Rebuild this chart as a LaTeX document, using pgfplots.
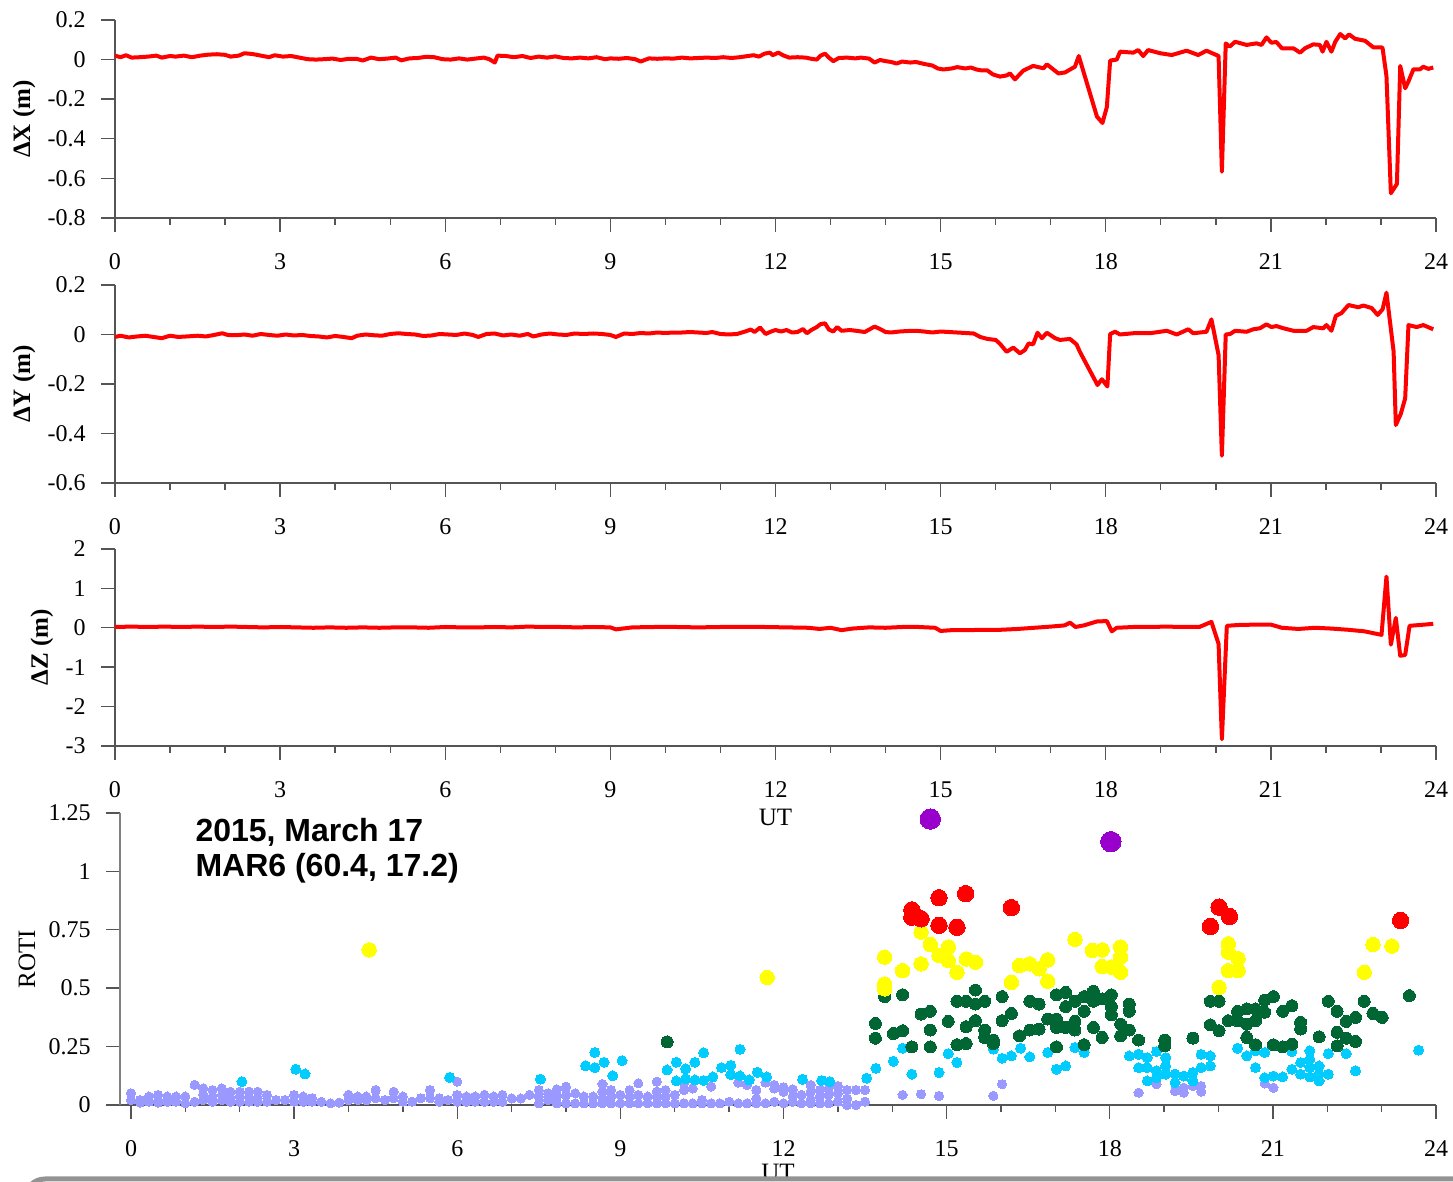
\documentclass[border=0pt]{standalone}
\usepackage{fontspec}
\setmainfont{Liberation Serif}
\setsansfont{Liberation Sans}
\usepackage{pgfplots}
\usepackage{pgfplotstable}
\pgfplotsset{compat=1.18}

\definecolor{axisgray}{HTML}{555555}
\definecolor{rotilav}{HTML}{9999FF}
\definecolor{roticyan}{HTML}{00CCFF}
\definecolor{rotigreen}{HTML}{006633}
\definecolor{rotiyellow}{HTML}{FFFF00}
\definecolor{rotired}{HTML}{FF0000}
\definecolor{rotipurple}{HTML}{9900CC}

% ---------------- position residuals (UT hours, metres) ----------------
\pgfplotstableread{
t d
0.00 0.020
0.10 0.012
0.20 0.022
0.30 0.010
0.45 0.012
0.60 0.015
0.75 0.020
0.85 0.010
1.00 0.018
1.10 0.015
1.25 0.020
1.40 0.012
1.55 0.020
1.70 0.025
1.85 0.027
2.00 0.024
2.10 0.015
2.25 0.020
2.35 0.032
2.50 0.028
2.65 0.020
2.80 0.012
2.90 0.022
3.05 0.015
3.20 0.018
3.35 0.010
3.50 0.002
3.65 0.000
3.80 0.002
3.95 0.005
4.10 -0.002
4.25 0.004
4.40 0.003
4.50 -0.005
4.65 0.010
4.80 0.002
4.95 0.005
5.10 0.010
5.20 -0.004
5.35 0.006
5.50 0.008
5.65 0.014
5.80 0.012
5.95 0.002
6.10 0.000
6.25 0.006
6.40 0.000
6.55 0.005
6.70 0.010
6.80 0.002
6.90 -0.015
6.95 0.020
7.10 0.018
7.25 0.012
7.40 0.018
7.55 0.008
7.70 0.015
7.85 0.010
8.00 0.016
8.15 0.008
8.30 0.006
8.45 0.010
8.60 0.006
8.75 0.012
8.90 0.002
9.00 0.006
9.15 0.004
9.30 0.008
9.45 0.002
9.55 -0.010
9.70 0.006
9.85 0.004
10.00 0.006
10.15 0.005
10.30 0.010
10.45 0.006
10.60 0.008
10.75 0.010
10.90 0.008
11.05 0.012
11.20 0.008
11.35 0.012
11.50 0.018
11.60 0.022
11.70 0.015
11.80 0.030
11.90 0.035
11.95 0.022
12.05 0.035
12.15 0.020
12.25 0.010
12.40 0.012
12.55 0.010
12.65 0.004
12.75 0.000
12.82 0.020
12.90 0.030
12.97 0.010
13.05 -0.008
13.15 0.008
13.30 0.010
13.45 0.006
13.55 0.010
13.70 0.005
13.80 -0.015
13.90 -0.002
14.00 -0.008
14.10 -0.012
14.20 -0.020
14.30 -0.010
14.45 -0.015
14.55 -0.012
14.70 -0.022
14.85 -0.030
14.95 -0.045
15.05 -0.050
15.20 -0.045
15.30 -0.038
15.45 -0.045
15.55 -0.040
15.65 -0.050
15.75 -0.055
15.85 -0.055
15.95 -0.075
16.08 -0.086
16.20 -0.080
16.26 -0.070
16.35 -0.100
16.50 -0.056
16.68 -0.032
16.87 -0.044
16.93 -0.024
17.14 -0.070
17.26 -0.065
17.44 -0.036
17.51 0.018
17.84 -0.288
17.94 -0.320
18.02 -0.240
18.08 -0.005
18.20 0.000
18.26 0.040
18.50 0.035
18.59 0.048
18.68 0.018
18.77 0.048
18.99 0.032
19.20 0.023
19.47 0.045
19.68 0.023
19.83 0.045
20.05 0.018
20.11 -0.566
20.18 0.082
20.25 0.065
20.35 0.090
20.56 0.074
20.74 0.082
20.83 0.074
20.92 0.112
21.01 0.085
21.10 0.089
21.20 0.057
21.41 0.057
21.53 0.035
21.62 0.057
21.77 0.077
21.89 0.074
21.94 0.040
22.01 0.090
22.10 0.040
22.17 0.090
22.26 0.129
22.35 0.107
22.42 0.127
22.53 0.105
22.71 0.095
22.86 0.062
23.01 0.062
23.03 0.057
23.10 -0.083
23.18 -0.675
23.29 -0.628
23.35 -0.032
23.44 -0.145
23.50 -0.110
23.59 -0.049
23.71 -0.049
23.77 -0.036
23.86 -0.047
23.95 -0.040
}\dxdata

\pgfplotstableread{
t d
0.00 -0.010
0.10 -0.005
0.25 -0.012
0.40 -0.008
0.55 -0.005
0.70 -0.010
0.85 -0.015
1.00 -0.005
1.15 -0.010
1.30 -0.008
1.50 -0.005
1.65 -0.008
1.80 -0.002
1.95 0.005
2.05 -0.002
2.20 -0.003
2.35 0.000
2.50 -0.005
2.65 0.002
2.80 -0.002
2.95 -0.005
3.10 0.000
3.25 -0.004
3.40 -0.002
3.55 -0.006
3.70 -0.008
3.85 -0.012
4.00 -0.006
4.15 -0.010
4.30 -0.015
4.40 -0.005
4.55 0.000
4.70 -0.003
4.85 -0.005
5.00 0.002
5.15 0.005
5.30 0.002
5.45 0.000
5.60 -0.006
5.75 -0.004
5.90 0.002
6.05 0.000
6.20 -0.002
6.35 0.004
6.50 -0.002
6.60 -0.010
6.75 0.002
6.90 0.004
7.05 -0.004
7.20 0.000
7.35 -0.005
7.50 0.002
7.60 -0.008
7.75 0.000
7.90 0.004
8.05 0.000
8.20 -0.002
8.35 0.004
8.50 0.002
8.70 0.004
8.85 0.002
9.00 -0.002
9.10 -0.010
9.25 0.004
9.40 0.002
9.55 0.006
9.70 0.004
9.85 0.008
10.00 0.006
10.15 0.008
10.30 0.008
10.45 0.010
10.60 0.008
10.75 0.006
10.85 0.010
11.00 0.002
11.15 0.000
11.30 0.002
11.45 0.012
11.55 0.020
11.62 0.010
11.72 0.028
11.82 0.002
11.92 0.012
12.00 0.018
12.10 0.012
12.20 0.018
12.30 0.008
12.40 0.010
12.50 0.022
12.57 0.005
12.65 0.018
12.75 0.030
12.82 0.042
12.90 0.045
12.97 0.020
13.05 0.012
13.12 0.030
13.20 0.015
13.35 0.018
13.50 0.014
13.62 0.010
13.72 0.022
13.80 0.032
13.90 0.022
14.00 0.010
14.10 0.008
14.25 0.012
14.40 0.014
14.55 0.015
14.70 0.012
14.85 0.008
15.00 0.012
15.15 0.010
15.30 0.008
15.45 0.006
15.60 0.004
15.72 -0.010
15.85 -0.018
16.00 -0.022
16.08 -0.038
16.20 -0.070
16.32 -0.053
16.44 -0.076
16.53 -0.063
16.60 -0.036
16.68 -0.040
16.76 0.007
16.84 -0.015
16.93 0.007
17.08 -0.015
17.17 -0.022
17.35 -0.018
17.47 -0.040
17.53 -0.070
17.85 -0.204
17.93 -0.181
18.03 -0.210
18.08 0.002
18.17 0.011
18.26 0.000
18.50 0.005
18.80 0.005
19.11 0.015
19.29 0.000
19.50 0.021
19.59 0.005
19.83 0.011
19.92 0.061
20.05 -0.083
20.11 -0.490
20.18 0.000
20.26 0.002
20.35 0.015
20.56 0.011
20.68 0.021
20.80 0.025
20.92 0.041
21.01 0.030
21.10 0.034
21.23 0.025
21.41 0.015
21.65 0.015
21.77 0.030
21.95 0.025
22.01 0.038
22.10 0.015
22.18 0.075
22.28 0.086
22.41 0.119
22.59 0.110
22.68 0.117
22.83 0.107
22.94 0.079
23.03 0.102
23.10 0.169
23.23 -0.069
23.27 -0.366
23.36 -0.321
23.44 -0.258
23.50 0.038
23.65 0.030
23.77 0.038
23.95 0.021
}\dydata

\pgfplotstableread{
t d
0.00 0.02
0.30 0.03
0.60 0.02
0.90 0.03
1.20 0.02
1.50 0.03
1.80 0.02
2.10 0.03
2.40 0.02
2.70 0.01
3.00 0.02
3.30 0.01
3.60 0.00
3.90 0.01
4.20 0.00
4.50 0.01
4.80 0.00
5.10 0.01
5.40 0.01
5.70 0.00
6.00 0.02
6.30 0.01
6.60 0.01
6.90 0.02
7.20 0.01
7.50 0.03
7.80 0.02
8.10 0.02
8.40 0.01
8.70 0.02
9.00 0.01
9.10 -0.04
9.40 0.01
9.80 0.02
10.20 0.02
10.60 0.01
11.00 0.02
11.40 0.02
11.80 0.02
12.20 0.01
12.60 0.00
12.80 -0.03
13.00 0.00
13.20 -0.06
13.40 -0.02
13.70 0.01
14.00 0.00
14.30 0.02
14.60 0.02
14.90 0.00
15.00 -0.08
15.20 -0.06
15.50 -0.06
15.80 -0.05
16.10 -0.05
16.40 -0.03
16.70 0.00
17.00 0.03
17.25 0.06
17.35 0.13
17.45 0.02
17.60 0.06
17.84 0.16
18.02 0.17
18.11 -0.09
18.20 0.00
18.50 0.02
18.80 0.02
19.10 0.03
19.40 0.02
19.70 0.02
19.92 0.15
20.05 -0.41
20.11 -2.83
20.20 0.05
20.40 0.07
20.70 0.08
21.00 0.08
21.20 0.00
21.50 -0.03
21.80 0.00
22.10 -0.02
22.40 -0.05
22.70 -0.09
23.01 -0.18
23.10 1.30
23.18 -0.43
23.27 0.25
23.35 -0.71
23.44 -0.69
23.52 0.05
23.70 0.07
23.95 0.10
}\dzdata

% ---------------- ROTI, split by level ----------------
\pgfplotstableread{
t r
0.00 0.050
0.00 0.021
0.17 0.021
0.17 0.010
0.33 0.036
0.33 0.014
0.50 0.043
0.50 0.021
0.50 0.010
0.67 0.036
0.67 0.014
0.83 0.036
0.83 0.014
1.00 0.036
1.00 0.007
1.17 0.086
1.17 0.014
1.33 0.071
1.33 0.043
1.33 0.021
1.50 0.064
1.50 0.036
1.50 0.014
1.67 0.071
1.67 0.043
1.67 0.021
1.83 0.057
1.83 0.029
1.83 0.014
2.00 0.057
2.00 0.036
2.00 0.014
2.17 0.057
2.17 0.036
2.17 0.014
2.33 0.057
2.33 0.029
2.33 0.014
2.50 0.043
2.50 0.014
2.67 0.021
2.83 0.021
3.00 0.043
3.00 0.014
3.17 0.036
3.17 0.014
3.33 0.029
3.33 0.014
3.50 0.014
3.67 0.007
3.83 0.010
4.00 0.043
4.00 0.021
4.17 0.036
4.17 0.021
4.33 0.036
4.33 0.021
4.50 0.064
4.50 0.029
4.67 0.021
4.83 0.057
4.83 0.029
5.00 0.036
5.00 0.014
5.17 0.014
5.33 0.029
5.50 0.064
5.50 0.029
5.67 0.029
5.67 0.014
5.83 0.021
6.00 0.100
6.00 0.043
6.00 0.014
6.17 0.036
6.17 0.014
6.33 0.036
6.33 0.014
6.50 0.043
6.50 0.014
6.67 0.036
6.67 0.014
6.83 0.043
6.83 0.014
7.00 0.028
7.17 0.028
7.33 0.043
7.50 0.064
7.50 0.036
7.50 0.007
7.67 0.050
7.67 0.021
7.83 0.067
7.83 0.036
7.83 0.007
8.00 0.078
8.00 0.043
8.00 0.007
8.17 0.050
8.17 0.007
8.33 0.036
8.33 0.007
8.50 0.036
8.50 0.007
8.67 0.090
8.67 0.057
8.67 0.028
8.67 0.007
8.83 0.064
8.83 0.036
8.83 0.007
9.00 0.043
9.00 0.007
9.17 0.064
9.17 0.036
9.17 0.007
9.33 0.093
9.33 0.043
9.33 0.007
9.50 0.036
9.50 0.007
9.67 0.100
9.67 0.057
9.67 0.036
9.67 0.007
9.83 0.064
9.83 0.036
9.83 0.007
10.00 0.043
10.00 0.007
10.17 0.093
10.17 0.064
10.17 0.007
10.33 0.071
10.33 0.007
10.50 0.021
10.50 0.007
10.67 0.079
10.67 0.007
10.83 0.007
11.00 0.014
11.17 0.096
11.17 0.007
11.33 0.086
11.33 0.007
11.50 0.064
11.50 0.028
11.50 0.007
11.67 0.096
11.67 0.007
11.83 0.086
11.83 0.071
11.83 0.014
12.00 0.076
12.00 0.057
12.00 0.007
12.17 0.067
12.17 0.036
12.17 0.014
12.33 0.043
12.33 0.007
12.50 0.086
12.50 0.057
12.50 0.021
12.50 0.007
12.67 0.064
12.67 0.036
12.67 0.007
12.83 0.071
12.83 0.043
12.83 0.007
13.00 0.081
13.00 0.050
13.00 0.014
13.17 0.064
13.17 0.028
13.17 0.000
13.33 0.064
13.33 0.000
13.50 0.064
13.50 0.014
14.19 0.043
14.53 0.046
14.86 0.039
15.86 0.039
16.02 0.089
18.53 0.053
18.86 0.089
19.20 0.060
19.36 0.074
19.36 0.053
19.53 0.081
19.68 0.081
19.68 0.057
20.85 0.092
21.01 0.074
}\rotilav

\pgfplotstableread{
t r
2.04 0.100
3.03 0.153
3.20 0.133
5.86 0.118
7.53 0.111
8.36 0.168
8.53 0.225
8.53 0.160
8.70 0.183
8.86 0.125
9.03 0.190
9.86 0.150
10.03 0.183
10.03 0.103
10.20 0.155
10.20 0.112
10.37 0.183
10.37 0.107
10.53 0.224
10.53 0.105
10.70 0.120
10.86 0.160
11.03 0.170
11.03 0.130
11.20 0.238
11.20 0.125
11.37 0.107
11.52 0.140
11.69 0.120
12.35 0.110
12.70 0.105
12.85 0.100
13.53 0.115
13.70 0.157
14.02 0.187
14.19 0.243
14.36 0.132
14.86 0.139
15.03 0.220
15.19 0.182
15.86 0.239
16.02 0.200
16.19 0.210
16.36 0.243
16.53 0.206
16.86 0.225
17.02 0.153
17.19 0.167
17.36 0.246
17.53 0.225
18.36 0.210
18.53 0.217
18.53 0.160
18.69 0.203
18.69 0.160
18.69 0.103
18.86 0.229
18.86 0.146
18.86 0.117
19.03 0.203
19.03 0.167
19.03 0.132
19.20 0.132
19.20 0.096
19.36 0.124
19.53 0.139
19.53 0.103
19.68 0.217
19.68 0.160
19.85 0.210
19.85 0.167
20.35 0.243
20.52 0.210
20.68 0.232
20.68 0.160
20.85 0.225
20.85 0.117
21.01 0.124
21.18 0.120
21.35 0.229
21.35 0.153
21.51 0.182
21.51 0.132
21.68 0.232
21.68 0.196
21.68 0.160
21.68 0.120
21.85 0.167
21.85 0.132
21.85 0.103
22.02 0.220
22.02 0.132
22.35 0.220
22.52 0.146
23.68 0.235
}\roticyan

\pgfplotstableread{
t r
9.86 0.270
13.69 0.349
13.69 0.286
13.86 0.464
14.02 0.306
14.19 0.472
14.19 0.318
14.36 0.249
14.53 0.389
14.70 0.401
14.70 0.321
14.70 0.249
15.03 0.358
15.19 0.444
15.19 0.258
15.36 0.444
15.36 0.335
15.36 0.263
15.53 0.492
15.53 0.432
15.53 0.361
15.70 0.444
15.70 0.321
15.70 0.289
15.86 0.278
15.86 0.263
16.02 0.464
16.02 0.361
16.19 0.392
16.34 0.296
16.53 0.444
16.53 0.321
16.70 0.432
16.70 0.325
16.86 0.368
17.02 0.472
17.02 0.368
17.02 0.332
17.02 0.249
17.19 0.482
17.19 0.421
17.19 0.332
17.36 0.444
17.36 0.358
17.36 0.321
17.53 0.464
17.53 0.401
17.53 0.258
17.70 0.487
17.70 0.444
17.70 0.332
17.86 0.454
17.86 0.289
18.03 0.472
18.03 0.421
18.03 0.386
18.20 0.346
18.20 0.296
18.36 0.432
18.36 0.401
18.36 0.321
18.53 0.278
19.01 0.278
19.01 0.253
19.53 0.286
19.85 0.444
19.85 0.343
20.01 0.444
20.01 0.318
20.18 0.361
20.35 0.401
20.35 0.361
20.52 0.411
20.52 0.346
20.52 0.289
20.68 0.411
20.68 0.361
20.68 0.258
20.85 0.449
20.85 0.397
21.01 0.464
21.01 0.258
21.18 0.401
21.18 0.249
21.35 0.425
21.35 0.260
21.51 0.354
21.51 0.325
21.85 0.292
22.02 0.444
22.18 0.401
22.18 0.311
22.18 0.253
22.35 0.358
22.35 0.286
22.52 0.375
22.52 0.272
22.68 0.444
22.84 0.392
23.01 0.375
23.51 0.468
}\rotigreen

\pgfplotstableread{
t r
4.38 0.664
11.70 0.546
13.86 0.633
13.86 0.518
13.86 0.497
14.19 0.575
14.53 0.740
14.53 0.604
14.70 0.687
14.86 0.640
15.03 0.676
15.03 0.618
15.19 0.568
15.36 0.625
15.53 0.611
16.19 0.525
16.34 0.597
16.53 0.604
16.70 0.583
16.86 0.621
16.86 0.530
17.36 0.709
17.68 0.661
17.86 0.664
17.86 0.593
18.03 0.590
18.20 0.676
18.20 0.633
18.20 0.568
20.01 0.504
20.18 0.690
20.18 0.654
20.18 0.575
20.36 0.626
20.36 0.575
22.68 0.568
22.84 0.687
23.19 0.680
}\rotiyellow

\pgfplotstableread{
t r
14.36 0.835
14.36 0.804
14.53 0.797
14.86 0.887
14.86 0.769
15.19 0.761
15.35 0.905
16.19 0.845
19.85 0.764
20.01 0.847
20.20 0.807
23.35 0.790
}\rotired

\pgfplotstableread{
t r
14.70 1.224
18.02 1.127
}\rotipurple

\pgfplotsset{
  panel/.style={
    scale only axis,
    width=660.5pt,
    xmin=0, xmax=24,
    axis x line*=bottom, axis y line*=left,
    x axis line style={-}, y axis line style={-},
    axis line style={line width=0.8pt, color=axisgray},
    xtick={0,3,...,24}, minor x tick num=2,
    tick align=outside,
    major tick length=7pt, minor tick length=3.5pt,
    every tick/.style={line width=0.7pt, color=axisgray},
    /pgf/number format/assume math mode=true,
    ticklabel style={font=\fontsize{12}{14}\selectfont},
    xticklabel style={anchor=center, yshift=-15pt},
    yticklabel style={anchor=east, inner sep=0pt, xshift=-7.5pt},
    label style={font=\fontsize{12.5}{15}\selectfont},
  },
  resid/.style={draw=red, line width=2pt, line join=round, no marks},
  roti/.style={only marks, mark=*, color=#1, mark options={draw=#1, fill=#1, line width=0pt}},
}

\begin{document}
\begin{tikzpicture}
\useasboundingbox (0,0) rectangle (726.5pt,591pt);

% ---- Delta X ----
\begin{axis}[panel, height=99pt,
  at={(57.5pt,482pt)}, anchor=south west,
  ymin=-0.8, ymax=0.2, ytick={-0.8,-0.6,...,0.2},
  yticklabels={-0.8,-0.6,-0.4,-0.2,0,0.2},
  ylabel={\bfseries ΔX (m)},
  ylabel style={at={(axis description cs:-0.0689,0.5)}, anchor=center}]
\addplot[resid] table[x=t, y=d] {\dxdata};
\end{axis}

% ---- Delta Y ----
\begin{axis}[panel, height=99pt,
  at={(57.5pt,349.5pt)}, anchor=south west,
  ymin=-0.6, ymax=0.2, ytick={-0.6,-0.4,...,0.2},
  yticklabels={-0.6,-0.4,-0.2,0,0.2},
  ylabel={\bfseries ΔY (m)},
  ylabel style={at={(axis description cs:-0.0689,0.5)}, anchor=center}]
\addplot[resid] table[x=t, y=d] {\dydata};
\end{axis}

% ---- Delta Z ----
\begin{axis}[panel, height=98.5pt,
  at={(57.5pt,218pt)}, anchor=south west,
  ymin=-3, ymax=2, ytick={-3,-2,...,2},
  yticklabels={-3,-2,-1,0,1,2},
  ylabel={\bfseries ΔZ (m)},
  ylabel style={at={(axis description cs:-0.0553,0.5)}, anchor=center},
  xlabel={UT},
  xlabel style={at={(axis description cs:0.5,-0.3604)}, anchor=center}]
\addplot[resid] table[x=t, y=d] {\dzdata};
\end{axis}

% ---- ROTI ----
\begin{axis}[panel, width=658pt, height=146pt,
  at={(60pt,38.5pt)}, anchor=south west,
  xmin=-0.2023, xmax=24,
  ymin=0, ymax=1.25, ytick={0,0.25,0.5,0.75,1,1.25},
  yticklabels={0,0.25,0.5,0.75,1,1.25},
  y axis line style={color=gray},
  ylabel={ROTI},
  ylabel style={at={(axis description cs:-0.0707,0.5)}, anchor=center},
  xlabel={UT},
  xlabel style={at={(axis description cs:0.5,-0.2295)}, anchor=center},
  clip=false]
\addplot[roti=rotilav, mark size=2.3pt] table[x=t, y=r] {\rotilav};
\addplot[roti=roticyan, mark size=2.5pt] table[x=t, y=r] {\roticyan};
\addplot[roti=rotigreen, mark size=3pt] table[x=t, y=r] {\rotigreen};
\addplot[roti=rotiyellow, mark size=3.6pt] table[x=t, y=r] {\rotiyellow};
\addplot[roti=rotired, mark size=4.1pt] table[x=t, y=r] {\rotired};
\addplot[roti=rotipurple, mark size=5.1pt] table[x=t, y=r] {\rotipurple};
\node[anchor=base west, inner sep=0pt, font=\fontsize{16}{19}\sffamily\bfseries] at (axis cs:1.18,1.126) {2015, March 17};
\node[anchor=base west, inner sep=0pt, font=\fontsize{16}{19}\sffamily\bfseries] at (axis cs:1.18,0.980) {MAR6 (60.4, 17.2)};
\end{axis}

% frame edge along the bottom
\draw[color=gray!85, line width=2.5pt, rounded corners=10pt] (12.5pt,-30pt) -- (12.5pt,1.5pt) -- (760pt,1.5pt);
\end{tikzpicture}
\end{document}
